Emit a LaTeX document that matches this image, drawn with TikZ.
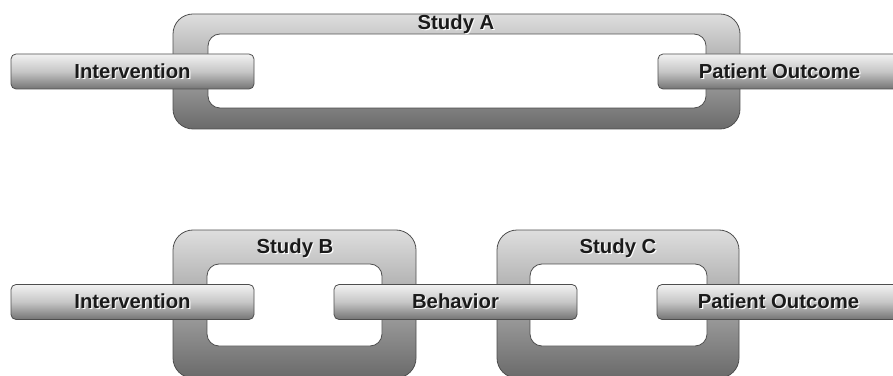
\documentclass[tikz,border=0pt]{standalone}
\usepackage{fontspec}
\setmainfont{Liberation Sans}
\definecolor{frtop}{HTML}{DEDEDE}
\definecolor{frbot}{HTML}{6A6A6A}
\definecolor{brtop}{HTML}{F2F2F2}
\definecolor{brmid}{HTML}{C6C6C6}
\definecolor{brbot}{HTML}{747474}
\definecolor{edge}{HTML}{4E4E4E}
\definecolor{txt}{HTML}{1A1A1A}
\newcommand\embtxt[1]{\makebox[0pt][l]{\hspace{1.2pt}\raisebox{-1.2pt}{\textcolor{white}{#1}}}\textcolor{txt}{#1}}
\tikzset{
  outerframe/.style={draw=edge, line width=0.8pt, rounded corners=20pt, top color=frtop, bottom color=frbot, inner sep=0pt},
  innerhole/.style={draw=edge, line width=0.8pt, rounded corners=12pt, fill=white, inner sep=0pt},
  barbox/.style={draw=edge, line width=0.8pt, rounded corners=5pt, top color=brtop, bottom color=brbot, middle color=brmid,
    minimum width=243pt, minimum height=35pt, inner sep=0pt, font=\fontsize{20.3}{23}\selectfont\bfseries},
  studylabel/.style={font=\fontsize{20.3}{23}\selectfont\bfseries, inner sep=0pt}
}
\begin{document}
\begin{tikzpicture}[x=1pt,y=1pt]
\useasboundingbox (0,0) rectangle (893,375);
% Study A
\node[outerframe, minimum width=567pt, minimum height=115pt] (frA) at (456.5,303.5) {};
\node[innerhole, minimum width=498pt, minimum height=74pt] (hoA) at (457,304) {};
\node[studylabel] (labA) at (456,350) {\embtxt{Study A}};
\node[barbox] (intA) at (132.5,303.5) {\embtxt{Intervention}};
\node[barbox] (poA) at (779.5,303.5) {\embtxt{Patient Outcome}};
% Study B
\node[outerframe, minimum width=243pt, minimum height=148pt] (frB) at (294.5,71) {};
\node[innerhole, minimum width=175pt, minimum height=82pt] (hoB) at (294.5,70) {};
\node[studylabel] (labB) at (295,126) {\embtxt{Study B}};
% Study C
\node[outerframe, minimum width=242pt, minimum height=148pt] (frC) at (618,71) {};
\node[innerhole, minimum width=177pt, minimum height=82pt] (hoC) at (618.5,70) {};
\node[studylabel] (labC) at (618,126) {\embtxt{Study C}};
% bars
\node[barbox] (intB) at (132.5,73) {\embtxt{Intervention}};
\node[barbox] (beh) at (455.5,73) {\embtxt{Behavior}};
\node[barbox] (poC) at (778.5,73) {\embtxt{Patient Outcome}};
\end{tikzpicture}
\end{document}
